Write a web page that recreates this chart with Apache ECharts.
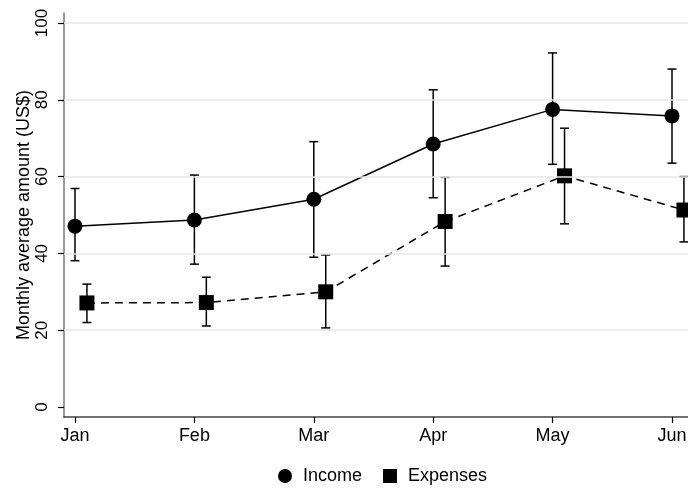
<!DOCTYPE html>
<html>
<head>
<meta charset="utf-8">
<script src="https://cdn.jsdelivr.net/npm/echarts@6/dist/echarts.min.js"></script>
<style>html,body{margin:0;padding:0;background:#fff}#c{width:688px;height:490px}</style>
</head>
<body>
<div id="c"></div>
<script>
const months = ['Jan', 'Feb', 'Mar', 'Apr', 'May', 'Jun'];
const yTicks = [0, 20, 40, 60, 80, 100];
const gridValues = [20, 40, 60, 80, 100];
const incomeMean = [47.1, 48.7, 54.1, 68.5, 77.5, 75.8];
const incomeLow = [38.1, 37.2, 39.0, 54.5, 63.2, 63.5];
const incomeHigh = [56.9, 60.4, 69.1, 82.6, 92.2, 88.0];
const expensesMean = [27.1, 27.2, 30.0, 48.3, 60.2, 51.3];
const expensesLow = [22.0, 21.1, 20.6, 36.7, 47.7, 43.0];
const expensesHigh = [32.0, 33.8, 39.6, 59.8, 72.6, 60.0];
const expOffset = 0.1;

const FONT = 'Liberation Sans, Arial, Helvetica, sans-serif';

function errData(offset, low, high) {
  return months.map((m, i) => [i + offset, low[i], high[i]]);
}
function errRender(params, api) {
  const x = api.value(0);
  const lo = api.coord([x, api.value(1)]);
  const hi = api.coord([x, api.value(2)]);
  const cw = 4.5;
  const style = { stroke: '#000', lineWidth: 1.5 };
  return {
    type: 'group',
    children: [
      { type: 'line', shape: { x1: lo[0], y1: lo[1], x2: hi[0], y2: hi[1] }, style },
      { type: 'line', shape: { x1: lo[0] - cw, y1: lo[1], x2: lo[0] + cw, y2: lo[1] }, style },
      { type: 'line', shape: { x1: hi[0] - cw, y1: hi[1], x2: hi[0] + cw, y2: hi[1] }, style }
    ]
  };
}

const chart = echarts.init(document.getElementById('c'), null, { renderer: 'canvas' });
chart.setOption({
  animation: false,
  backgroundColor: '#fff',
  textStyle: { fontFamily: FONT },
  grid: { left: 64, right: 0, top: 13, bottom: 73, containLabel: false, outerBoundsMode: 'none' },
  legend: {
    left: 273, top: 462,
    itemWidth: 14, itemHeight: 14, itemGap: 21,
    textStyle: { fontSize: 18, color: '#000', fontFamily: FONT, padding: [0, 0, 0, 6] },
    data: [
      { name: 'Income', icon: 'circle' },
      { name: 'Expenses', icon: 'rect' }
    ]
  },
  xAxis: {
    type: 'value',
    min: -0.092, max: 5.134,
    splitLine: { show: false },
    axisLine: { show: true, onZero: false, lineStyle: { color: '#444', width: 1.5 } },
    axisTick: { show: true, length: 6, lineStyle: { color: '#000', width: 1.2 }, customValues: months.map((m, i) => i) },
    axisLabel: {
      customValues: months.map((m, i) => i),
      formatter: v => months[Math.round(v)],
      fontSize: 18, color: '#000', margin: 10, fontFamily: FONT
    }
  },
  yAxis: {
    type: 'value',
    min: -2.6, max: 102.6,
    name: 'Monthly average amount (US$)',
    nameLocation: 'middle', nameRotate: 90, nameGap: 31, nameMoveOverlap: false,
    nameTextStyle: { fontSize: 18, color: '#000', fontFamily: FONT },
    splitLine: { show: false },
    axisLine: { show: true, onZero: false, lineStyle: { color: '#777', width: 1.5 } },
    axisTick: { show: true, length: 6, lineStyle: { color: '#000', width: 1.2 }, customValues: yTicks },
    axisLabel: {
      customValues: yTicks, rotate: 90,
      fontSize: 17, color: '#000', margin: 13, fontFamily: FONT
    }
  },
  series: [
    {
      name: 'grid', type: 'line', data: [], z: 0, silent: true,
      markLine: {
        silent: true, symbol: 'none', label: { show: false },
        lineStyle: { color: '#e6e6e6', width: 1.5, type: 'solid' },
        data: gridValues.map(v => ({ yAxis: v }))
      }
    },
    {
      name: 'IncomeErr', type: 'custom', renderItem: errRender, z: 1, silent: true,
      data: errData(0, incomeLow, incomeHigh)
    },
    {
      name: 'ExpensesErr', type: 'custom', renderItem: errRender, z: 1, silent: true,
      data: errData(expOffset, expensesLow, expensesHigh)
    },
    {
      name: 'Income', type: 'line', z: 3,
      data: incomeMean.map((v, i) => [i, v]),
      symbol: 'circle', symbolSize: 15,
      itemStyle: { color: '#000' },
      lineStyle: { color: '#000', width: 1.5, type: 'solid' }
    },
    {
      name: 'Expenses', type: 'line', z: 3,
      data: expensesMean.map((v, i) => [i + expOffset, v]),
      symbol: 'rect', symbolSize: 15,
      itemStyle: { color: '#000' },
      lineStyle: { color: '#000', width: 1.5, type: [8, 6] }
    }
  ]
});
</script>
</body>
</html>
